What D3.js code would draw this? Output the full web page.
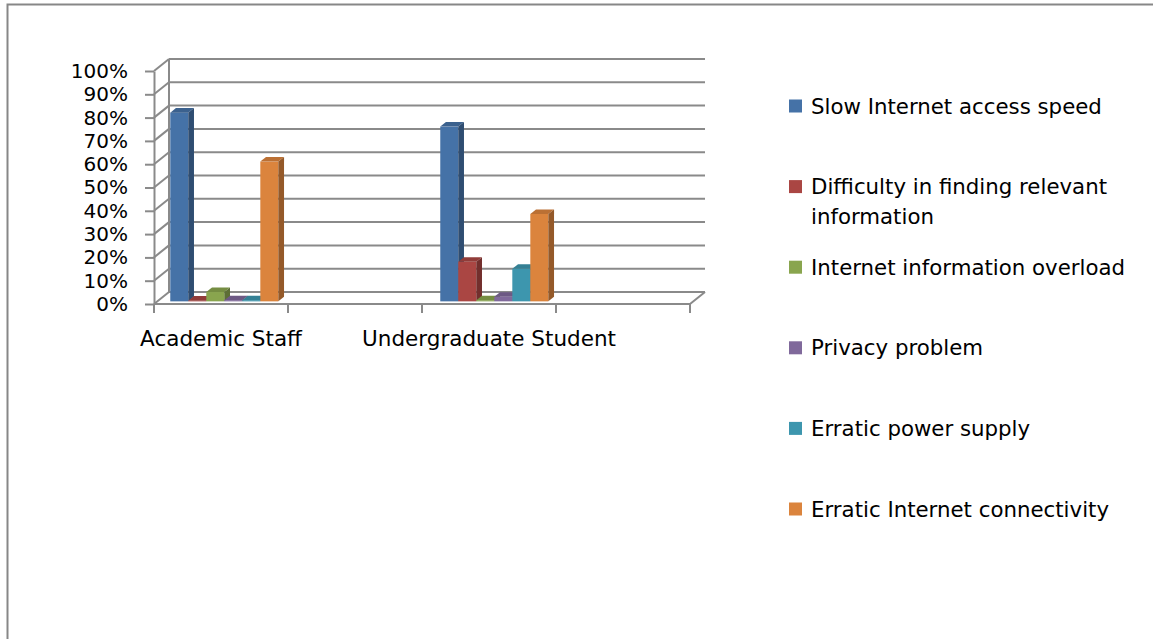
<!DOCTYPE html>
<html>
<head>
<meta charset="utf-8">
<script src="https://cdn.jsdelivr.net/npm/d3@7"></script>
<style>
  body { margin: 0; background: #fff; }
  svg { display: block; }
  text { font-family: "DejaVu Sans", sans-serif; fill: #000; }
</style>
</head>
<body>
<div id="chart"></div>
<script>
// categories (2nd and 4th have no label and no data)
var categoryLabels = ["Academic Staff", "", "Undergraduate Student", ""];

// series values in percent, one value per category
var slowSpeed      = [81, null, 75, null];
var findingInfo    = [0.3, null, 17, null];
var infoOverload   = [4, null, 0.5, null];
var privacyProblem = [0.5, null, 2, null];
var powerSupply    = [0.5, null, 14, null];
var connectivity   = [60, null, 37.5, null];

var seriesNames = [
  "Slow Internet access speed",
  "Difficulty in finding relevant\ninformation",
  "Internet information overload",
  "Privacy problem",
  "Erratic power supply",
  "Erratic Internet connectivity"
];
var seriesValues = [slowSpeed, findingInfo, infoOverload, privacyProblem, powerSupply, connectivity];
var seriesColors = ["#4572A7", "#AA4643", "#89A54E", "#80699B", "#3D96AE", "#DB843D"];

var yTicks = [0, 10, 20, 30, 40, 50, 60, 70, 80, 90, 100];

var W = 1153, H = 639;
// 3d offsets of the back wall
var DX = 15, DY = -12;
// depth of the bars (fraction of floor depth)
var f0 = 0.22, f1 = 0.6;
var gridColor = "#8a8a8a";

var svg = d3.select("#chart").append("svg").attr("width", W).attr("height", H);

// chart border
svg.append("rect")
  .attr("x", 7.5).attr("y", 4.5)
  .attr("width", W + 20).attr("height", H + 20)
  .attr("fill", "#fff").attr("stroke", "#878787").attr("stroke-width", 2);

var x = d3.scaleBand().domain(d3.range(categoryLabels.length)).range([154, 690]);
var xs = d3.scaleBand().domain(d3.range(seriesNames.length)).range([0, x.bandwidth()])
  .paddingInner(0).paddingOuter(0.72);
var y = d3.scaleLinear().domain([0, 100]).range([304, 71]);

var g = svg.append("g");

// back wall gridlines and side wall lines
yTicks.forEach(function(t) {
  g.append("line")
    .attr("x1", x.range()[0] + DX).attr("x2", x.range()[1] + DX)
    .attr("y1", y(t) + DY).attr("y2", y(t) + DY)
    .attr("stroke", gridColor).attr("stroke-width", 2);
  g.append("line")
    .attr("x1", x.range()[0]).attr("x2", x.range()[0] + DX)
    .attr("y1", y(t)).attr("y2", y(t) + DY)
    .attr("stroke", gridColor).attr("stroke-width", 2);
});
// back wall left edge
g.append("line")
  .attr("x1", x.range()[0] + DX).attr("x2", x.range()[0] + DX)
  .attr("y1", y(0) + DY).attr("y2", y(100) + DY)
  .attr("stroke", gridColor).attr("stroke-width", 2);
// floor front and right edges
g.append("line")
  .attr("x1", x.range()[0]).attr("x2", x.range()[1])
  .attr("y1", y(0)).attr("y2", y(0))
  .attr("stroke", gridColor).attr("stroke-width", 2);
g.append("line")
  .attr("x1", x.range()[1]).attr("x2", x.range()[1] + DX)
  .attr("y1", y(0)).attr("y2", y(0) + DY)
  .attr("stroke", gridColor).attr("stroke-width", 2);

// x tick marks at category boundaries
var bounds = x.domain().map(function(d) { return x(d); }).concat([x.range()[1]]);
g.selectAll(".xtick").data(bounds).enter().append("line")
  .attr("x1", function(d) { return d; }).attr("x2", function(d) { return d; })
  .attr("y1", y(0)).attr("y2", y(0) + 9)
  .attr("stroke", gridColor).attr("stroke-width", 2);

// y axis
var yAxis = d3.axisLeft(y).tickValues(yTicks).tickSize(9).tickSizeOuter(0).tickPadding(17)
  .tickFormat(function(d) { return d + "%"; });
var gy = g.append("g").attr("transform", "translate(" + x.range()[0] + ",0)").call(yAxis);
gy.select(".domain").attr("stroke", gridColor).attr("stroke-width", 2);
gy.selectAll(".tick line").attr("stroke", gridColor).attr("stroke-width", 2);
gy.selectAll(".tick text").style("font-size", "20px").attr("fill", "#000");

// x axis labels
var xAxis = d3.axisBottom(x).tickSize(0).tickPadding(27)
  .tickFormat(function(i) { return categoryLabels[i]; });
var gx = g.append("g").attr("transform", "translate(0," + y(0) + ")").call(xAxis);
gx.select(".domain").remove();
gx.selectAll(".tick text").style("font-size", "21.5px").attr("fill", "#000");

// bars
var ddx = (f1 - f0) * DX, ddy = (f1 - f0) * DY;
var bars = g.append("g");
x.domain().forEach(function(c) {
  seriesValues.forEach(function(vals, s) {
    var v = vals[c];
    if (v == null) return;
    var base = seriesColors[s];
    var xf = x(c) + xs(s) + f0 * DX + (c > 1 ? 2 : 0);
    var w = xs.bandwidth();
    var yt = y(v) + f0 * DY, yb = y(0) + f0 * DY;
    var pts = function(a) { return a.map(function(p) { return p.join(","); }).join(" "); };
    bars.append("rect")
      .attr("x", xf).attr("y", yt).attr("width", w).attr("height", yb - yt)
      .attr("fill", base);
    bars.append("polygon")
      .attr("points", pts([[xf, yt], [xf + w, yt], [xf + w + ddx, yt + ddy], [xf + ddx, yt + ddy]]))
      .attr("fill", d3.color(base).darker(0.45));
    bars.append("polygon")
      .attr("points", pts([[xf + w, yt], [xf + w + ddx, yt + ddy], [xf + w + ddx, yb + ddy], [xf + w, yb]]))
      .attr("fill", d3.color(base).darker(1.1));
  });
});

// legend
var ly = d3.scalePoint().domain(d3.range(seriesNames.length)).range([106, 509]);
var legend = svg.append("g");
seriesNames.forEach(function(name, i) {
  var row = legend.append("g").attr("transform", "translate(789," + ly(i) + ")");
  row.append("rect").attr("x", 0).attr("y", -6.5).attr("width", 13).attr("height", 13)
    .attr("fill", seriesColors[i]);
  var t = row.append("text").attr("x", 22).attr("y", 0).style("font-size", "21.3px");
  name.split("\n").forEach(function(line, k) {
    t.append("tspan").attr("x", 22).attr("dy", k === 0 ? "0.36em" : "1.38em").text(line);
  });
});
</script>
</body>
</html>
